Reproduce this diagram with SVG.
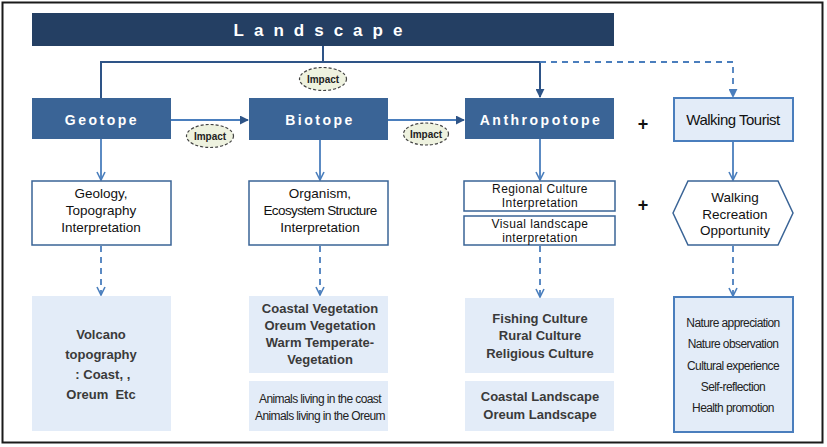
<svg xmlns="http://www.w3.org/2000/svg" width="827" height="447" viewBox="0 0 827 447">
<defs>
<style>
.frame{fill:#fff;stroke:#1a1a1a;stroke-width:2}
.bar{fill:#243f63}
.node{fill:#3a6496}
.ntext{font-family:"Liberation Sans",Arial,sans-serif;font-weight:bold;font-size:14px;fill:#fff;text-anchor:middle;letter-spacing:2.5px}
.box{fill:#fff;stroke:#3a6496;stroke-width:1.5}
.lt{fill:#e3ecf8}
.ltb{fill:#e3ecf8;stroke:#4a7ebd;stroke-width:2}
.t2{font-family:"Liberation Sans",Arial,sans-serif;font-size:13.5px;fill:#111;text-anchor:middle}
.t2s{font-family:"Liberation Sans",Arial,sans-serif;font-size:12px;fill:#111;text-anchor:middle;letter-spacing:0.4px}
.t3{font-family:"Liberation Sans",Arial,sans-serif;font-size:13px;fill:#3a3a3a;text-anchor:middle;font-weight:bold}
.t3c{font-family:"Liberation Sans Narrow","Liberation Sans",Arial,sans-serif;font-size:12px;fill:#222;text-anchor:middle;letter-spacing:-0.6px}
.imp{fill:#eef2df;stroke:#444;stroke-width:1.2;stroke-dasharray:3 2}
.it{font-family:"Liberation Sans",Arial,sans-serif;font-size:10px;font-weight:bold;fill:#222;text-anchor:middle}
.sol{fill:none;stroke:#2e5487;stroke-width:2}
.lsol{fill:none;stroke:#4a7ebd;stroke-width:1.8}
.dash{fill:none;stroke:#4a7ebd;stroke-width:1.8;stroke-dasharray:6 5}
.plus{font-family:"Liberation Sans",Arial,sans-serif;font-size:18px;font-weight:bold;fill:#111;text-anchor:middle}
</style>
<marker id="afb" viewBox="0 0 10 10" refX="9" refY="5" markerWidth="9" markerHeight="9" orient="auto" markerUnits="userSpaceOnUse">
<path d="M0,0 L10,5 L0,10 z" fill="#2e5487"/>
</marker>
<marker id="afl" viewBox="0 0 10 10" refX="9" refY="5" markerWidth="9" markerHeight="9" orient="auto" markerUnits="userSpaceOnUse">
<path d="M0,0 L10,5 L0,10 z" fill="#4a7ebd"/>
</marker>
<marker id="av" viewBox="0 0 10 10" refX="9" refY="5" markerWidth="10" markerHeight="10" orient="auto" markerUnits="userSpaceOnUse">
<path d="M1,1 L9,5 L1,9" fill="none" stroke="#4a7ebd" stroke-width="1.6"/>
</marker>
</defs>
<rect class="frame" x="2.5" y="2.5" width="820" height="440"/>

<g id="connectors">
<path class="sol" d="M323,46 V62"/>
<path class="sol" d="M101,98 V62 H540"/>
<path class="sol" d="M540,62 V97" marker-end="url(#afb)"/>
<path class="dash" d="M540,62 H733 V97" marker-end="url(#afl)"/>
<path class="lsol" d="M171,120 H248" marker-end="url(#afb)"/>
<path class="lsol" d="M388,120 H464" marker-end="url(#afb)"/>
<path class="lsol" d="M101,139 V180" marker-end="url(#av)"/>
<path class="lsol" d="M320,140 V180" marker-end="url(#av)"/>
<path class="lsol" d="M540,139 V180" marker-end="url(#av)"/>
<path class="lsol" d="M733,142 V180" marker-end="url(#av)"/>
<path class="dash" d="M101,246 V295" marker-end="url(#av)"/>
<path class="dash" d="M320,246 V295" marker-end="url(#av)"/>
<path class="dash" d="M540,246 V297" marker-end="url(#av)"/>
<path class="dash" d="M733,246 V296" marker-end="url(#av)"/>
</g>

<g id="landscape">
<rect class="bar" x="32" y="13" width="582" height="33"/>
<text x="323" y="36" font-family="Liberation Sans,Arial,sans-serif" font-size="17" font-weight="bold" fill="#fff" text-anchor="middle" letter-spacing="10">Landscape</text>
</g>

<g id="impact1"><ellipse class="imp" cx="323" cy="79" rx="23.5" ry="11.5"/><text class="it" x="323" y="83">Impact</text></g>
<g id="impact2"><ellipse class="imp" cx="210" cy="136" rx="23.5" ry="11.5"/><text class="it" x="210" y="140">Impact</text></g>
<g id="impact3"><ellipse class="imp" cx="426" cy="134" rx="22.5" ry="11"/><text class="it" x="426" y="138">Impact</text></g>

<g id="geotope"><rect class="node" x="32" y="98" width="139" height="41"/><text class="ntext" x="102" y="125">Geotope</text></g>
<g id="biotope"><rect class="node" x="249" y="98" width="139" height="42"/><text class="ntext" x="320" y="125">Biotope</text></g>
<g id="anthropotope"><rect class="node" x="465" y="98" width="149" height="41"/><text class="ntext" x="541" y="125">Anthropotope</text></g>
<g id="walking-tourist"><rect class="ltb" x="674" y="98" width="119" height="43"/><text x="733" y="125" font-family="Liberation Sans,Arial,sans-serif" font-size="15" fill="#111" text-anchor="middle" letter-spacing="-0.5">Walking Tourist</text></g>

<g id="plus1"><text class="plus" x="643" y="130">+</text></g>
<g id="plus2"><text class="plus" x="643" y="211">+</text></g>

<g id="geology"><rect class="box" x="32" y="181" width="139" height="64"/>
<text class="t2" x="101" y="198">Geology,</text><text class="t2" x="101" y="215">Topography</text><text class="t2" x="101" y="232">Interpretation</text></g>
<g id="organism"><rect class="box" x="249" y="181" width="139" height="64"/>
<text class="t2" x="320" y="198">Organism,</text><text class="t2" x="320" y="215" letter-spacing="-0.6">Ecosystem Structure</text><text class="t2" x="320" y="232">Interpretation</text></g>
<g id="regional-culture"><rect class="box" x="464" y="181" width="151" height="30"/>
<text class="t2s" x="540" y="193">Regional Culture</text><text class="t2s" x="540" y="207">Interpretation</text></g>
<g id="visual-landscape"><rect class="box" x="464" y="216" width="151" height="29"/>
<text class="t2s" x="540" y="228">Visual landscape</text><text class="t2s" x="540" y="242">interpretation</text></g>
<g id="walking-recreation"><polygon class="box" points="673,213 688,181 778,181 793,213 778,245 688,245"/>
<text class="t2" x="735" y="202">Walking</text><text class="t2" x="735" y="219">Recreation</text><text class="t2" x="735" y="235">Opportunity</text></g>

<g id="volcano"><rect class="lt" x="32" y="296" width="139" height="135"/>
<text class="t3" x="101" y="339">Volcano</text><text class="t3" x="101" y="359">topography</text><text class="t3" x="101" y="379" xml:space="preserve"> : Coast, ,</text><text class="t3" x="101" y="399" xml:space="preserve">Oreum  Etc</text></g>
<g id="coastal-vegetation"><rect class="lt" x="249" y="296" width="139" height="77"/>
<text class="t3" x="320" y="313">Coastal Vegetation</text><text class="t3" x="320" y="330">Oreum Vegetation</text><text class="t3" x="320" y="347">Warm Temperate-</text><text class="t3" x="320" y="364">Vegetation</text></g>
<g id="animals"><rect class="lt" x="249" y="381" width="139" height="50"/>
<text class="t3c" x="320" y="403">Animals living in the coast</text><text class="t3c" x="320" y="420">Animals living in the Oreum</text></g>
<g id="fishing-culture"><rect class="lt" x="465" y="298" width="149" height="75"/>
<text class="t3" x="540" y="323">Fishing Culture</text><text class="t3" x="540" y="340">Rural Culture</text><text class="t3" x="540" y="358">Religious Culture</text></g>
<g id="coastal-landscape"><rect class="lt" x="465" y="381" width="149" height="50"/>
<text class="t3" x="540" y="401">Coastal Landscape</text><text class="t3" x="540" y="419">Oreum Landscape</text></g>
<g id="nature"><rect class="ltb" x="674" y="297" width="119" height="135"/>
<text class="t3c" x="733" y="327" font-size="13" fill="#111">Nature appreciation</text>
<text class="t3c" x="733" y="348" font-size="13" fill="#111">Nature observation</text>
<text class="t3c" x="733" y="370" font-size="13" fill="#111">Cultural experience</text>
<text class="t3c" x="733" y="391" font-size="13" fill="#111">Self-reflection</text>
<text class="t3c" x="733" y="412" font-size="13" fill="#111">Health promotion</text></g>
</svg>
